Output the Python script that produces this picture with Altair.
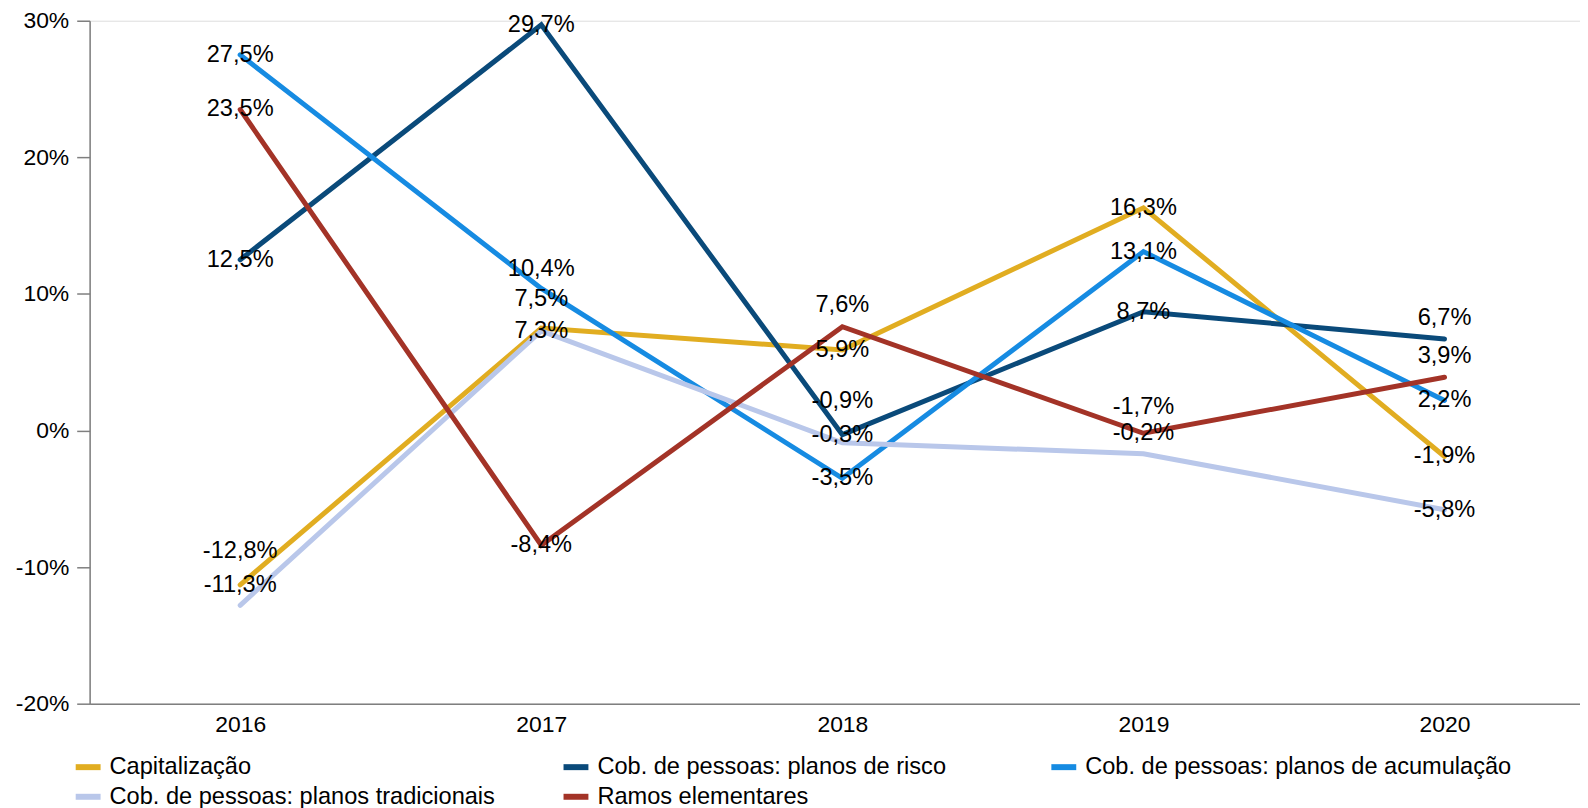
import altair as alt
import pandas as pd

years = [2016, 2017, 2018, 2019, 2020]
series = [
    "Capitalização",
    "Cob. de pessoas: planos de risco",
    "Cob. de pessoas: planos de acumulação",
    "Cob. de pessoas: planos tradicionais",
    "Ramos elementares",
]
capitalizacao = [-11.3, 7.5, 5.9, 16.3, -1.9]
risco = [12.5, 29.7, -0.3, 8.7, 6.7]
acumulacao = [27.5, 10.4, -3.5, 13.1, 2.2]
tradicionais = [-12.8, 7.3, -0.9, -1.7, -5.8]
ramos = [23.5, -8.4, 7.6, -0.2, 3.9]
colors = ["#E1AD21", "#0A4A7A", "#168BE2", "#B9C7EA", "#A33327"]
y_ticks = [-20, -10, 0, 10, 20, 30]

values = [capitalizacao, risco, acumulacao, tradicionais, ramos]
rows = []
for s, vals in zip(series, values):
    for yr, v in zip(years, vals):
        rows.append({"serie": s, "ano": yr, "valor": v})
df = pd.DataFrame(rows)

# label displacement (pixels) used by the original to avoid overlapping labels
label_shift = {
    ("Cob. de pessoas: planos tradicionais", 2016): -55,
    ("Cob. de pessoas: planos de acumulação", 2017): -20,
    ("Capitalização", 2017): -29,
    ("Ramos elementares", 2018): -22,
    ("Cob. de pessoas: planos tradicionais", 2018): -42,
    ("Cob. de pessoas: planos tradicionais", 2019): -47,
    ("Cob. de pessoas: planos de risco", 2020): -21,
    ("Ramos elementares", 2020): -21,
}

FONT = "Liberation Sans"
AFS = 23
FS = 23.7

x_enc = alt.X(
    "ano:Q",
    scale=alt.Scale(domain=[2015.5, 2020.45], nice=False, zero=False),
    axis=alt.Axis(
        values=years, format="d", title=None, ticks=False, grid=False,
        domainColor="#7f7f7f", domainWidth=1.5, labelFont=FONT, labelFontSize=AFS,
        labelColor="black", labelPadding=10, labelFlush=False,
    ),
)
y_enc = alt.Y(
    "valor:Q",
    scale=alt.Scale(domain=[-20, 30], nice=False),
    axis=alt.Axis(
        values=y_ticks, title=None, grid=False, tickSize=13, tickColor="#7f7f7f",
        domainColor="#7f7f7f", domainWidth=1.5, tickWidth=1.5,
        labelExpr="datum.value + '%'", labelFont=FONT, labelFontSize=AFS,
        labelColor="black", labelPadding=8,
    ),
)
color_enc = alt.Color(
    "serie:N",
    scale=alt.Scale(domain=series, range=colors),
    sort=series,
    legend=alt.Legend(
        title=None, orient="none", legendX=-17, legendY=734, direction="horizontal",
        columns=3, gridAlign="all", columnPadding=16, rowPadding=2,
        symbolType="stroke", symbolStrokeWidth=6, symbolSize=625,
        labelFont=FONT, labelFontSize=FS, labelColor="black", labelOffset=6,
        labelLimit=0, padding=0,
    ),
)

base = alt.Chart(df)
layers = []
for s in series:
    layers.append(
        base.transform_filter(alt.datum.serie == s)
        .mark_line(strokeWidth=5, strokeCap="round", strokeJoin="miter")
        .encode(x=x_enc, y=y_enc, color=color_enc)
    )

label_expr = (
    "(datum.valor < 0 ? '-' : '') + replace(format(abs(datum.valor), '.1f'), '.', ',') + '%'"
)
text_base = base.transform_calculate(lab=label_expr)

shift_cond = " || ".join(
    f"(datum.serie == '{s}' && datum.ano == {yr})" for (s, yr) in label_shift
)
layers.append(
    text_base.transform_filter(f"!({shift_cond})")
    .mark_text(font=FONT, fontSize=FS, color="black", align="center", baseline="middle")
    .encode(x=alt.X("ano:Q"), y=alt.Y("valor:Q"), text="lab:N")
)
for (s, yr), d in label_shift.items():
    layers.append(
        text_base.transform_filter(
            f"datum.serie == '{s}' && datum.ano == {yr}"
        )
        .mark_text(font=FONT, fontSize=FS, color="black", align="center",
                   baseline="middle", dy=d)
        .encode(x=alt.X("ano:Q"), y=alt.Y("valor:Q"), text="lab:N")
    )

chart = (
    alt.layer(*layers)
    .properties(width=1497, height=686, padding={"left": 7, "top": 0, "right": 0, "bottom": 0})
    .configure_view(stroke=None)
    .configure(background="white")
)

chart.save("out.html", embed_options={"renderer": "svg", "actions": False})
